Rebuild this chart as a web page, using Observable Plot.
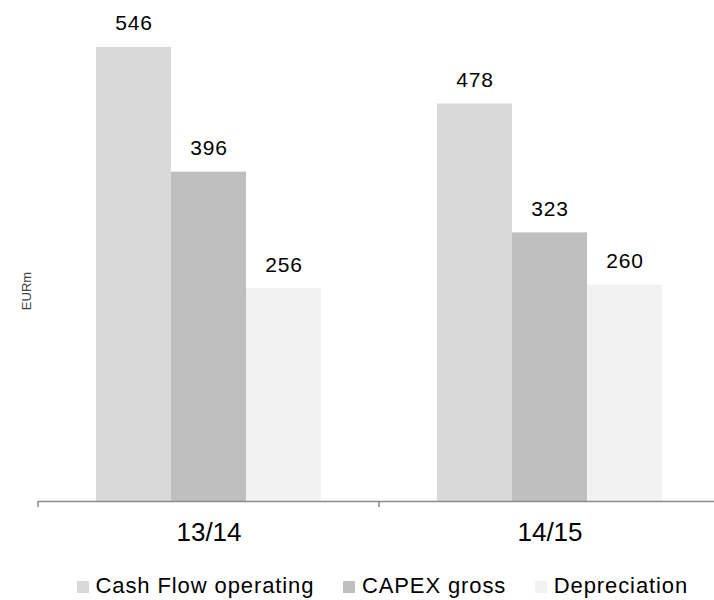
<!DOCTYPE html>
<html>
<head>
<meta charset="utf-8">
<script src="https://cdn.jsdelivr.net/npm/d3@7"></script>
<script src="https://cdn.jsdelivr.net/npm/@observablehq/plot@0.6"></script>
<style>
  html, body { margin: 0; padding: 0; background: #fff; overflow: hidden; }
  #wrap { position: relative; width: 714px; height: 600px; font-family: 'Liberation Sans', Arial, sans-serif; }
  #ylabel { position: absolute; left: 25.5px; top: 291px; transform: translate(-50%, -50%) rotate(-90deg);
            font-size: 13px; color: #404040; white-space: nowrap; }
  #legend { position: absolute; left: 77px; top: 574.7px; font-size: 22px; line-height: 22px; letter-spacing: 0.9px; white-space: nowrap; color: #000; }
  #legend .item { display: inline-block; margin-right: 29px; }
  #legend .sw { display: inline-block; width: 12px; height: 12px; margin-right: 6.5px; vertical-align: baseline; }
  g[aria-label="text"] text { letter-spacing: 0.8px; }
</style>
</head>
<body>
<div id="wrap"></div>
<script>
// ---- data ----
const periods = ["13/14", "14/15"];
const series = ["Cash Flow operating", "CAPEX gross", "Depreciation"];
const cashFlowOperating = [546, 478];
const capexGross = [396, 323];
const depreciation = [256, 260];
const colors = ["#d9d9d9", "#bfbfbf", "#f2f2f2"];
const yLabel = "EURm";
const axisColor = "#8a8a8a";

const seriesValues = [cashFlowOperating, capexGross, depreciation];
const data = periods.flatMap((p, i) =>
  series.map((s, j) => ({period: p, series: s, value: seriesValues[j][i]})));

// small ticks at the category boundaries, derived from the facet frame
function boundaryTicks(index, scales, values, dimensions) {
  const {marginLeft, height, marginBottom} = dimensions;
  const y0 = height - marginBottom;
  return d3.create("svg:path")
    .attr("d", `M${marginLeft},${y0}v6`)
    .attr("stroke", axisColor)
    .attr("stroke-width", 1.5)
    .node();
}

const chart = Plot.plot({
  width: 714,
  height: 600,
  marginTop: 2,
  marginBottom: 99,
  marginLeft: 38,
  marginRight: -6,
  style: {fontFamily: "'Liberation Sans', Arial, sans-serif", background: "transparent", color: "#000"},
  fx: {domain: periods, padding: 0, label: null},
  x: {domain: series, paddingInner: 0, paddingOuter: 0.75, axis: null},
  y: {domain: [0, 600], axis: null},
  color: {domain: series, range: colors},
  marks: [
    Plot.barY(data, {fx: "period", x: "series", y: "value", fill: "series"}),
    Plot.ruleY([0], {stroke: axisColor, strokeWidth: 1.5}),
    boundaryTicks,
    Plot.text(data, {fx: "period", x: "series", y: "value", text: d => String(d.value),
      lineAnchor: "bottom", dy: -17, fontSize: 21, fill: "#000"}),
    Plot.axisFx({anchor: "bottom", tickSize: 0, tickPadding: 21, fontSize: 26, label: null, fill: "#000"})
  ]
});

const wrap = document.getElementById("wrap");
wrap.appendChild(chart);

const yl = document.createElement("div");
yl.id = "ylabel";
yl.textContent = yLabel;
wrap.appendChild(yl);

const legend = d3.select(wrap).append("div").attr("id", "legend");
const items = legend.selectAll(".item").data(series).join("span").attr("class", "item");
items.append("span").attr("class", "sw").style("background", (d, i) => colors[i]);
items.append("span").text(d => d);
</script>
</body>
</html>
